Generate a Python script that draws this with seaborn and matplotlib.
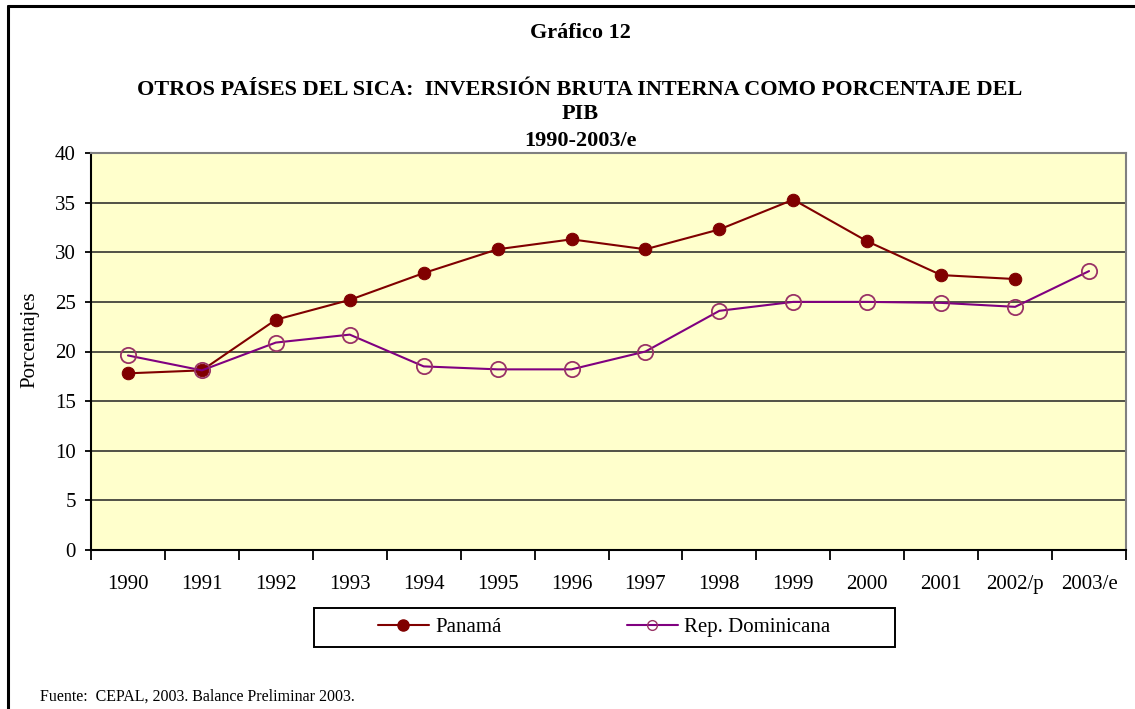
import numpy as np
import pandas as pd
import seaborn as sns
import matplotlib.pyplot as plt
from matplotlib.lines import Line2D
from matplotlib.patches import Rectangle

anios = ["1990", "1991", "1992", "1993", "1994", "1995", "1996",
         "1997", "1998", "1999", "2000", "2001", "2002/p", "2003/e"]
panama = [17.8, 18.1, 23.2, 25.2, 27.9, 30.3, 31.3, 30.3, 32.3, 35.3, 31.1, 27.7, 27.3, np.nan]
rep_dominicana = [19.6, 18.1, 20.9, 21.7, 18.5, 18.2, 18.2, 20.0, 24.1, 25.0, 25.0, 24.9, 24.5, 28.1]

sns.set_style("white")
plt.rcParams['font.family'] = ['Liberation Serif', 'DejaVu Serif']
plt.rcParams['text.color'] = 'black'
plt.rcParams['axes.labelcolor'] = 'black'
plt.rcParams['xtick.color'] = 'black'
plt.rcParams['ytick.color'] = 'black'

W, H = 1135, 709
fig = plt.figure(figsize=(W / 100, H / 100), dpi=100)
ax = fig.add_axes([91 / W, 1 - 550 / H, (1126 - 91) / W, (550 - 153) / H])
ax.set_facecolor('#FFFFCC')

df = pd.DataFrame({"pos": np.arange(len(anios)), "Panamá": panama, "Rep. Dominicana": rep_dominicana})

sns.lineplot(x="pos", y="Panamá", data=df, ax=ax, color='#800000', linewidth=1.5,
             marker='o', markersize=9, markerfacecolor='#800000', markeredgecolor='#800000')
sns.lineplot(x="pos", y="Rep. Dominicana", data=df, ax=ax, color='#800080', linewidth=1.5,
             marker='o', markersize=11, markerfacecolor='none', markeredgecolor='#993366',
             markeredgewidth=1.3)

ax.set_xlim(-0.5, len(anios) - 0.5)
ax.set_ylim(0, 40)
ax.set_yticks(range(0, 41, 5))
ax.set_xticks(np.arange(len(anios)))
ax.set_xticklabels(anios)
ax.set_xticks(np.arange(len(anios) + 1) - 0.5, minor=True)
ax.tick_params(bottom=True, left=True, which='both')
ax.tick_params(axis='x', which='major', length=0, pad=18, labelsize=15)
ax.tick_params(axis='x', which='minor', length=7, width=1.3, direction='out', color='black')
ax.tick_params(axis='y', length=4, width=1.3, direction='out', color='black', labelsize=15, pad=7)
ax.yaxis.grid(True, color='#222222', linewidth=1.1)
ax.set_axisbelow(True)
ax.set_xlabel("")
ax.set_ylabel("Porcentajes", fontsize=15)
ax.yaxis.set_label_coords((39 - 91) / 1035, (550 - 340) / 397)

ax.spines['left'].set_color('black')
ax.spines['left'].set_linewidth(1.5)
ax.spines['bottom'].set_color('black')
ax.spines['bottom'].set_linewidth(1.5)
ax.spines['top'].set_color('#808080')
ax.spines['top'].set_linewidth(1.5)
ax.spines['right'].set_color('#808080')
ax.spines['right'].set_linewidth(1.5)

# Títulos
fig.text(580 / W, 1 - 33 / H, "Gráfico 12", ha='center', va='center', fontsize=16, fontweight='bold')
fig.text(580 / W, 1 - 90 / H, "OTROS PAÍSES DEL SICA:  INVERSIÓN BRUTA INTERNA COMO PORCENTAJE DEL",
         ha='center', va='center', fontsize=16, fontweight='bold')
fig.text(580 / W, 1 - 114 / H, "PIB", ha='center', va='center', fontsize=16, fontweight='bold')
fig.text(580 / W, 1 - 141 / H, "1990-2003/e", ha='center', va='center', fontsize=16, fontweight='bold')

# Leyenda
fig.add_artist(Rectangle((314 / W, 1 - 647 / H), (895 - 314) / W, (647 - 608) / H,
                         transform=fig.transFigure, facecolor='white', edgecolor='black',
                         linewidth=1.4, zorder=1))
handles = [
    Line2D([], [], color='#800000', linewidth=1.5, marker='o', markersize=8,
           markerfacecolor='#800000', markeredgecolor='#800000'),
    Line2D([], [], color='#800080', linewidth=1.5, marker='o', markersize=7,
           markerfacecolor='none', markeredgecolor='#993366'),
]
leg = fig.legend(handles, ["Panamá", "Rep. Dominicana"], ncol=2, loc='center',
                 bbox_to_anchor=(604 / W, 1 - 627.5 / H), fontsize=15, frameon=False,
                 handlelength=2.45, handletextpad=0.3, columnspacing=6.0)
leg.set_zorder(2)

fig.text(40 / W, 1 - 697 / H, "Fuente:  CEPAL, 2003. Balance Preliminar 2003.",
         ha='left', va='center', fontsize=11.5)

# Marco exterior (recortado a la derecha y abajo)
fig.add_artist(Line2D([7.5 / W, 7.5 / W], [0, 1 - 6 / H], color='black', linewidth=2.2))
fig.add_artist(Line2D([7.5 / W, 1], [1 - 6 / H, 1 - 6 / H], color='black', linewidth=2.2))

fig.savefig("out.png", dpi=100)
